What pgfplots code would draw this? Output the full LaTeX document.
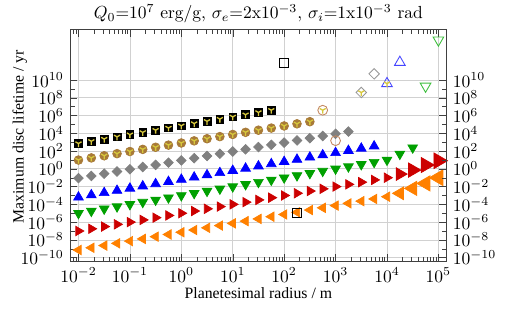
\documentclass[border=0pt]{standalone}
\usepackage{pgfplots}
\pgfplotsset{compat=1.18}
\usetikzlibrary{plotmarks}
\usepackage{fontspec}
\newfontfamily\labelfont{Liberation Serif}
\definecolor{ybrown}{RGB}{168,122,56}
\definecolor{obrown}{RGB}{195,135,95}
\definecolor{yyel}{RGB}{215,200,60}
\definecolor{ggray}{RGB}{128,128,128}
\definecolor{ogray}{RGB}{150,150,150}
\definecolor{gblue}{RGB}{0,0,255}
\definecolor{oblue}{RGB}{70,70,255}
\definecolor{ggreen}{RGB}{0,160,0}
\definecolor{ogreen}{RGB}{60,190,60}
\definecolor{gred}{RGB}{204,0,0}
\definecolor{gorange}{RGB}{255,128,0}
\begin{document}
\begin{tikzpicture}
\path[use as bounding box] (-40pt,-30pt) rectangle (256pt,149.5pt);
\begin{axis}[
  at={(0,0)}, anchor=south west,
  scale only axis, width=215.3pt, height=132.9pt,
  xmode=log, ymode=log,
  xmin=6.84e-3, xmax=1.455e5, ymin=3.55e-11, ymax=5.5e15,
  ytick={1e-10,1e-8,1e-6,1e-4,1e-2,1,1e2,1e4,1e6,1e8,1e10},
  minor ytick={1e-9,1e-7,1e-5,1e-3,1e-1,1e1,1e3,1e5,1e7,1e9},
  axis line style={black!75}, tick style={black!75},
  xtick={1e-2,1e-1,1,1e1,1e2,1e3,1e4,1e5},
  minor xtick={7e-3,8e-3,9e-3,2e-2,3e-2,4e-2,5e-2,6e-2,7e-2,8e-2,9e-2,2e-1,3e-1,4e-1,5e-1,6e-1,7e-1,8e-1,9e-1,2,3,4,5,6,7,8,9,20,30,40,50,60,70,80,90,200,300,400,500,600,700,800,900,2000,3000,4000,5000,6000,7000,8000,9000,2e4,3e4,4e4,5e4,6e4,7e4,8e4,9e4},
  yticklabel pos=left,
  grid=major, major grid style={black!18, line width=0.4pt},
  title={$Q_0$=10$^7$ erg/g, $\sigma_e$=2x10$^{-3}$, $\sigma_i$=1x10$^{-3}$ rad},
  title style={yshift=-6pt},
  xlabel={\labelfont\small Planetesimal radius / m},
  ylabel={\labelfont\small Maximum disc lifetime / yr},
  xlabel style={at={(axis description cs:0.5,-0.136)}, anchor=center},
  ylabel style={at={(axis description cs:-0.133,0.537)}, anchor=center, rotate=0},
  clip=false,
]
% orange (left triangles)
\addplot[only marks, mark=triangle*, mark size=3.1pt, mark options={rotate=90, fill=gorange, draw=gorange}] coordinates {
(1e-2,7.24e-10) (1.778e-2,1.288e-9) (3.162e-2,2.29e-9) (5.623e-2,4.07e-9) (1e-1,7.24e-9) (1.778e-1,1.288e-8) (3.162e-1,2.29e-8) (5.623e-1,4.07e-8) (1,7.24e-8) (1.778,1.288e-7) (3.162,2.29e-7) (5.623,4.07e-7) (10,7.24e-7) (17.78,1.288e-6) (31.62,2.29e-6) (56.23,4.07e-6) (100,7.24e-6) (177.8,1.288e-5) (316.2,2.29e-5) (562.3,4.07e-5) (1000,7.24e-5) (1778,1.288e-4) (3162,2.29e-4) (5623,4.07e-4) (10000,7.24e-4)};
\addplot[only marks, mark=triangle*, mark size=4.2pt, mark options={rotate=90, fill=gorange, draw=gorange}] coordinates {(17783,1.74e-3)};
\addplot[only marks, mark=triangle*, mark size=4.7pt, mark options={rotate=90, fill=gorange, draw=gorange}] coordinates {(31623,6.31e-3)};
\addplot[only marks, mark=triangle*, mark size=5.0pt, mark options={rotate=90, fill=gorange, draw=gorange}] coordinates {(56234,2.29e-2)};
\addplot[only marks, mark=triangle*, mark size=5.2pt, mark options={rotate=90, fill=gorange, draw=gorange}] coordinates {(1e5,0.1)};
% red (right triangles)
\addplot[only marks, mark=triangle*, mark size=3.1pt, mark options={rotate=-90, fill=gred, draw=gred}] coordinates {
(1e-2,1e-7) (1.778e-2,1.778e-7) (3.162e-2,3.162e-7) (5.623e-2,5.623e-7) (1e-1,1e-6) (1.778e-1,1.778e-6) (3.162e-1,3.162e-6) (5.623e-1,5.623e-6) (1,1e-5) (1.778,1.778e-5) (3.162,3.162e-5) (5.623,5.623e-5) (10,1e-4) (17.78,1.778e-4) (31.62,3.162e-4) (56.23,5.623e-4) (100,1e-3) (177.8,1.778e-3) (316.2,3.162e-3) (562.3,5.623e-3) (1000,1e-2) (1778,1.778e-2) (3162,3.162e-2) (5623,5.623e-2) (10000,0.1)};
\addplot[only marks, mark=triangle*, mark size=4.2pt, mark options={rotate=-90, fill=gred, draw=gred}] coordinates {(17783,0.257)};
\addplot[only marks, mark=triangle*, mark size=4.7pt, mark options={rotate=-90, fill=gred, draw=gred}] coordinates {(31623,0.724)};
\addplot[only marks, mark=triangle*, mark size=5.0pt, mark options={rotate=-90, fill=gred, draw=gred}] coordinates {(56234,2.69)};
\addplot[only marks, mark=triangle*, mark size=5.2pt, mark options={rotate=-90, fill=gred, draw=gred}] coordinates {(1e5,8.13)};
% green (down triangles)
\addplot[only marks, mark=triangle*, mark size=3.2pt, mark options={rotate=180, fill=ggreen, draw=ggreen}] coordinates {
(1e-2,1e-5) (1.778e-2,1.778e-5) (3.162e-2,3.162e-5) (5.623e-2,5.623e-5) (1e-1,1e-4) (1.778e-1,1.778e-4) (3.162e-1,3.162e-4) (5.623e-1,5.623e-4) (1,1e-3) (1.778,1.778e-3) (3.162,3.162e-3) (5.623,5.623e-3) (10,1e-2) (17.78,1.778e-2) (31.62,3.162e-2) (56.23,5.623e-2) (100,0.1) (177.8,0.1778) (316.2,0.3162) (562.3,0.5623) (1000,1) (1778,1.778) (3162,3.162) (5623,5.623) (10000,10) (17783,46.8) (31623,240)};
% blue (up triangles)
\addplot[only marks, mark=triangle*, mark size=3.2pt, mark options={fill=gblue, draw=gblue}] coordinates {
(1e-2,6.31e-4) (1.778e-2,1.12e-3) (3.162e-2,2.0e-3) (5.623e-2,3.55e-3) (1e-1,6.31e-3) (1.778e-1,1.12e-2) (3.162e-1,2.0e-2) (5.623e-1,3.55e-2) (1,6.31e-2) (1.778,1.12e-1) (3.162,2.0e-1) (5.623,3.55e-1) (10,6.31e-1) (17.78,1.12) (31.62,2.0) (56.23,3.55) (100,6.31) (177.8,11.2) (316.2,20.0) (562.3,35.5) (1000,63.1) (1778,112) (3162,200) (5623,355)};
% gray diamonds
\addplot[only marks, mark=square*, mark size=1.95pt, mark options={rotate=45, fill=ggray, draw=ggray}] coordinates {
(1e-2,8.91e-2) (1.778e-2,1.58e-1) (3.162e-2,2.82e-1) (5.623e-2,5.01e-1) (1e-1,8.91e-1) (1.778e-1,1.58) (3.162e-1,2.82) (5.623e-1,5.01) (1,8.91) (1.778,15.8) (3.162,28.2) (5.623,50.1) (10,89.1) (17.78,158) (31.62,282) (56.23,501) (100,891) (177.8,1.58e3) (316.2,2.82e3) (562.3,5.01e3) (1000,8.91e3) (1778,1.58e4)};
% brown circles
\addplot[only marks, mark=*, mark size=2.5pt, mark options={fill=ybrown, draw=ybrown}] coordinates {
(1e-2,9.77) (1.778e-2,1.70e1) (3.162e-2,2.95e1) (5.623e-2,5.13e1) (1e-1,8.91e1) (1.778e-1,1.55e2) (3.162e-1,2.69e2) (5.623e-1,4.68e2) (1,8.13e2) (1.778,1.41e3) (3.162,2.45e3) (5.623,4.27e3) (10,7.41e3) (17.78,1.29e4) (31.62,2.24e4) (56.23,3.89e4) (100,6.76e4) (177.8,1.17e5) (316.2,2.04e5)};
% black squares
\addplot[only marks, mark=square*, mark size=2.2pt, mark options={fill=black, draw=black}] coordinates {
(1e-2,7.08e2) (1.778e-2,1.26e3) (3.162e-2,2.24e3) (5.623e-2,3.98e3) (1e-1,7.08e3) (1.778e-1,1.26e4) (3.162e-1,2.24e4) (5.623e-1,3.98e4) (1,7.08e4) (1.778,1.26e5) (3.162,2.24e5) (5.623,3.98e5) (10,7.08e5) (17.78,1.26e6) (31.62,2.24e6) (56.23,3.98e6)};
% open markers
\addplot[only marks, mark=square, mark size=2.5pt, mark options={draw=black, line width=0.5pt}] coordinates {(100,7.94e11) (177.8,1e-5)};
\addplot[only marks, mark=o, mark size=2.8pt, mark options={draw=obrown, line width=0.5pt}] coordinates {(562.3,3.98e6) (1000,1.48e3)};
\addplot[only marks, mark=square, mark size=2.1pt, mark options={rotate=45, draw=ogray, line width=0.5pt}] coordinates {(3162,3.98e8) (5623,5.01e10)};
\addplot[only marks, mark=triangle, mark size=3.5pt, mark options={draw=oblue, line width=0.5pt}] coordinates {(10000,3.98e9) (17783,1e12)};
\addplot[only marks, mark=triangle, mark size=3.5pt, mark options={rotate=180, draw=ogreen, line width=0.5pt}] coordinates {(56234,2.0e9) (1e5,3.16e14)};
% yellow Y overlay
\addplot[only marks, mark=Mercedes star flipped, mark size=2.0pt, mark options={draw=yyel, line width=0.75pt}] coordinates {
(1e-2,7.08e2) (1.778e-2,1.26e3) (3.162e-2,2.24e3) (5.623e-2,3.98e3) (1e-1,7.08e3) (1.778e-1,1.26e4) (3.162e-1,2.24e4) (5.623e-1,3.98e4) (1,7.08e4) (1.778,1.26e5) (3.162,2.24e5) (5.623,3.98e5) (10,7.08e5) (17.78,1.26e6) (31.62,2.24e6) (56.23,3.98e6)
(1e-2,9.77) (1.778e-2,1.70e1) (3.162e-2,2.95e1) (5.623e-2,5.13e1) (1e-1,8.91e1) (1.778e-1,1.55e2) (3.162e-1,2.69e2) (5.623e-1,4.68e2) (1,8.13e2) (1.778,1.41e3) (3.162,2.45e3) (5.623,4.27e3) (10,7.41e3) (17.78,1.29e4) (31.62,2.24e4) (56.23,3.89e4) (100,6.76e4) (177.8,1.17e5) (316.2,2.04e5)
(562.3,3.98e6) (3162,3.98e8) (10000,3.98e9)};
\end{axis}
\begin{axis}[
  at={(0,0)}, anchor=south west,
  scale only axis, width=215.3pt, height=132.9pt,
  xmode=log, ymode=log,
  xmin=6.84e-3, xmax=1.455e5, ymin=3.55e-11, ymax=5.5e15,
  ytick={1e-10,1e-8,1e-6,1e-4,1e-2,1,1e2,1e4,1e6,1e8,1e10},
  minor ytick={1e-9,1e-7,1e-5,1e-3,1e-1,1e1,1e3,1e5,1e7,1e9},
  axis line style={black!75}, tick style={black!75},
  hide x axis, axis y line*=right,
  yticklabel pos=right,
]
\addplot[draw=none] coordinates {(1,1)};
\end{axis}
\end{tikzpicture}
\end{document}
